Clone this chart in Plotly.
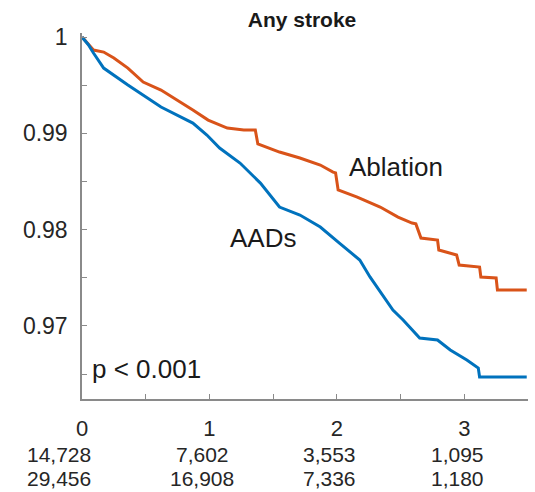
import plotly.graph_objects as go

# ---- data ----
ablation_t = [0, 0.09, 0.17, 0.25, 0.36, 0.48, 0.62, 0.75, 0.87, 0.99, 1.14, 1.27, 1.36,
              1.38, 1.55, 1.71, 1.87, 1.97, 1.99, 2.01, 2.16, 2.34, 2.48, 2.59, 2.62,
              2.66, 2.79, 2.80, 2.94, 2.96, 3.12, 3.13, 3.25, 3.26, 3.49]
ablation_s = [1.0, 0.99865, 0.99844, 0.99782, 0.99678, 0.99533, 0.99450, 0.99346, 0.99242,
              0.99138, 0.99055, 0.99035, 0.99035, 0.98890, 0.98806, 0.98744, 0.98671,
              0.98598, 0.98590, 0.98412, 0.98339, 0.98235, 0.98131, 0.98069, 0.98060,
              0.97913, 0.97893, 0.97789, 0.97737, 0.97633, 0.97612, 0.97509, 0.97498,
              0.97374, 0.97374]

aads_t = [0, 0.05, 0.09, 0.17, 0.36, 0.62, 0.87, 0.98, 1.08, 1.24, 1.40, 1.55, 1.71,
          1.87, 2.02, 2.18, 2.26, 2.36, 2.44, 2.52, 2.65, 2.79, 2.89, 3.02, 3.11, 3.12, 3.49]
aads_s = [1.0, 0.9992, 0.99834, 0.99678, 0.99502, 0.99273, 0.99107, 0.98983, 0.98848,
          0.98692, 0.98484, 0.98235, 0.98152, 0.98028, 0.97861, 0.97685, 0.97509,
          0.97322, 0.97166, 0.97062, 0.96875, 0.96855, 0.96751, 0.96647, 0.96564,
          0.96470, 0.96470]

x_ticks = [0, 1, 2, 3]
at_risk_ablation = ["14,728", "7,602", "3,553", "1,095"]
at_risk_aads = ["29,456", "16,908", "7,336", "1,180"]

title = "Any stroke"
p_text = "p < 0.001"

ORANGE = "#D95319"
BLUE = "#0072BD"
FONT = "Liberation Sans, Arial, sans-serif"
AXC = "#8a8a8a"

fig = go.Figure()
fig.add_trace(go.Scatter(x=ablation_t, y=ablation_s, mode="lines",
                         line=dict(color=ORANGE, width=3), showlegend=False))
fig.add_trace(go.Scatter(x=aads_t, y=aads_s, mode="lines",
                         line=dict(color=BLUE, width=3), showlegend=False))

fig.update_layout(
    width=535, height=492,
    margin=dict(l=82, r=7, t=33, b=93),
    paper_bgcolor="white", plot_bgcolor="white",
    font=dict(family=FONT, color="#262626"),
    title=dict(text="<b>" + title + "</b>", x=(302 - 82) / 446, xref="paper",
               y=1 - 20 / 492, yref="container", xanchor="center", yanchor="middle",
               font=dict(size=21, color="#1a1a1a", family=FONT)),
)

fig.update_xaxes(range=[0, 3.5], tickvals=[0, 0.5, 1, 1.5, 2, 2.5, 3, 3.5],
                 ticktext=["0", "", "1", "", "2", "", "3", ""],
                 showgrid=False, zeroline=False, showline=True, linecolor=AXC, linewidth=1.5,
                 ticks="inside", ticklen=5, tickcolor=AXC, tickwidth=1.2,
                 tickfont=dict(size=22, color="#262626"), ticklabelstandoff=9)
fig.update_yaxes(range=[0.96242, 1.00042],
                 tickvals=[0.965, 0.97, 0.975, 0.98, 0.985, 0.99, 0.995, 1.0],
                 ticktext=["", "0.97", "", "0.98", "", "0.99", "", "1"],
                 showgrid=False, zeroline=False, showline=True, linecolor=AXC, linewidth=1.5,
                 ticks="inside", ticklen=5, tickcolor=AXC, tickwidth=1.2,
                 tickfont=dict(size=23, color="#262626"), ticklabelstandoff=8)

# curve labels
fig.add_annotation(x=2.465, y=0.98650, text="Ablation", showarrow=False,
                   font=dict(size=26, color="#1a1a1a"), xanchor="center", yanchor="middle")
fig.add_annotation(x=1.42, y=0.97913, text="AADs", showarrow=False,
                   font=dict(size=26, color="#1a1a1a"), xanchor="center", yanchor="middle")
fig.add_annotation(x=0.063, y=0.96553, text=p_text, showarrow=False,
                   font=dict(size=26, color="#1a1a1a"), xanchor="left", yanchor="middle")

# numbers at risk
for i, t in enumerate(x_ticks):
    xs = -23 if i == 0 else -7
    fig.add_annotation(x=t, y=0, xref="x", yref="paper", text=at_risk_ablation[i],
                       showarrow=False, xanchor="center", yanchor="middle",
                       xshift=xs, yshift=-55, font=dict(size=21, color="#262626"))
    fig.add_annotation(x=t, y=0, xref="x", yref="paper", text=at_risk_aads[i],
                       showarrow=False, xanchor="center", yanchor="middle",
                       xshift=xs, yshift=-79, font=dict(size=21, color="#262626"))

fig.write_html("out.html")
